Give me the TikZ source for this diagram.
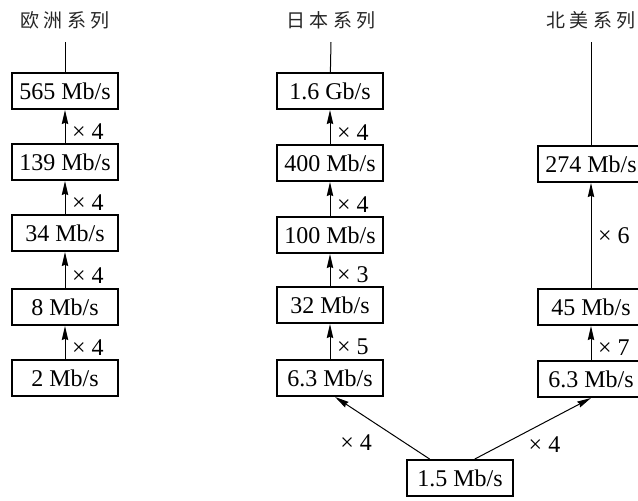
\documentclass[tikz,border=0pt]{standalone}
\usepackage{fontspec}
\setmainfont{Liberation Serif}
\newfontfamily\cjk[LetterSpace=22]{Noto Sans CJK SC}
\usetikzlibrary{arrows.meta,positioning}
\newcommand{\Mbs}{\ Mb/s}
\newcommand{\Gbs}{\ Gb/s}

\begin{document}
\begin{tikzpicture}[x=0.5pt, y=-0.5pt, line width=0.5pt,
  font=\fontsize{12}{14}\selectfont,
  rate/.style={draw, line width=1pt, minimum width=53pt, minimum height=18pt, inner sep=0pt},
  series/.style={font=\cjk\fontsize{9.5}{11}\selectfont, text=black!85},
  >={Stealth[length=7pt, width=3.2pt, inset=0.6pt]}]
% Page frame
\useasboundingbox (0,0) rectangle (638,500);

% Series titles and free ends of the top lines
\foreach \name/\x/\txt in {eu/65/欧洲系列, jp/331/日本系列, na/591/北美系列} {
    \node[series] (title\name) at (\x,20) {\txt};
    \coordinate (top\name) at (\x,42);
}

% European hierarchy
\foreach \name/\y/\txt in {e565/91/565\Mbs, e139/162/139\Mbs, e34/233/34\Mbs, e8/307/8\Mbs, e2/378/2\Mbs}
    \node[rate] (\name) at (65,\y) {\txt};

% Japanese hierarchy
\foreach \name/\y/\txt in {j16/91/1.6\Gbs, j400/163/400\Mbs, j100/235/100\Mbs, j32/305/32\Mbs, j63/378/6.3\Mbs}
    \node[rate] (\name) at (330,\y) {\txt};

% North American hierarchy
\foreach \name/\y/\txt in {n274/164/274\Mbs, n45/307/45\Mbs, n63/379/6.3\Mbs}
    \node[rate] (\name) at (591,\y) {\txt};

% Common primary rate
\node[rate] (b15) at (460,478) {1.5\Mbs};

% Multiplexing steps
\foreach \a/\b/\k in {e2/e8/4, e8/e34/4, e34/e139/4, e139/e565/4, j63/j32/5, j32/j100/3, j100/j400/4, j400/j16/4, n63/n45/7}
    \draw[->] (\a) -- (\b) node[pos=0.35, right] {× \k};
\draw[->] (n45) -- (n274) node[midway, right] {× 6};

% Lines up to the titles
\foreach \a/\b in {topeu/e565, topjp/j16, topna/n274}
    \draw (\a) -- (\b);

% From 1.5 Mb/s to both 6.3 Mb/s levels
\draw[->] (b15.148) -- (j63.285) node[pos=0.26, left=13pt] {× 4};
\draw[->] (b15.52) -- (n63.south) node[pos=0.23, right=10pt] {× 4};

\end{tikzpicture}
\end{document}
